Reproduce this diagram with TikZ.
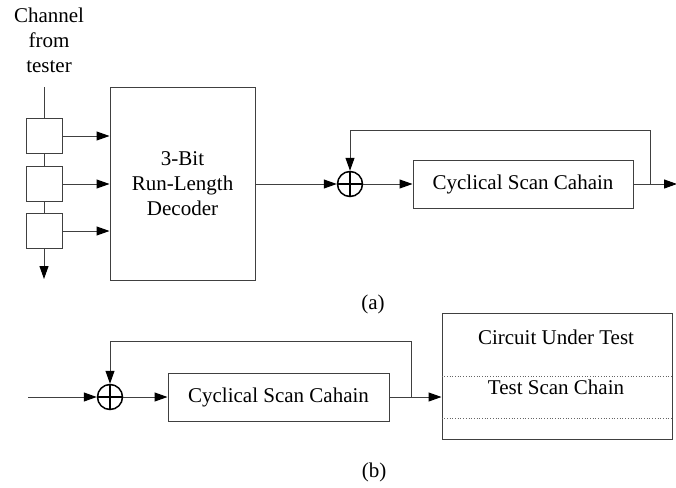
\documentclass[tikz,border=0pt]{standalone}
\usepackage{fontspec}
\setmainfont{Liberation Serif}
\usetikzlibrary{arrows.meta}
\tikzset{node distance=2.0cm, auto}

\begin{document}
\begin{tikzpicture}[
  x=1pt, y=-1pt,
  line width=1pt,
  txt/.style={font=\fontsize{21}{25}\selectfont, align=center, inner sep=0pt},
  blk/.style={draw=black!75, rectangle, inner sep=0pt, font=\fontsize{21}{25}\selectfont, align=center},
  xor/.style={draw, circle, minimum size=25pt, inner sep=0pt, line width=1.5pt,
    path picture={\draw (path picture bounding box.north) -- (path picture bounding box.south)
      (path picture bounding box.west) -- (path picture bounding box.east);}},
  arr/.style={-{Triangle[length=13pt,width=9pt,color=black]}, draw=black!75},
  sep/.style={dotted, draw=black!60, line width=0.7pt}
]
\useasboundingbox (0,0) rectangle (676,487);

% (a) decoder side
\node[txt] (chan) at (49,40) {Channel\\from\\tester};
\coordinate (chin) at (44,87);
\node[blk, minimum width=36pt, minimum height=35pt] (reg1) at (44,136) {};
\node[blk, minimum width=36pt, minimum height=35pt] (reg2) at (44,184) {};
\node[blk, minimum width=36pt, minimum height=35pt] (reg3) at (44,231) {};
\coordinate (chout) at (44,279);
\node[blk, minimum width=145pt, minimum height=193pt] (dec) at (182.5,183.5) {3-Bit\\Run-Length\\Decoder};

\draw[draw=black!75] (chin) -- (reg1.north);
\draw[draw=black!75] (reg1.south) -- (reg2.north);
\draw[draw=black!75] (reg2.south) -- (reg3.north);
\draw[arr] (reg3.south) -- (chout);
\draw[arr] (reg1.east) -- (reg1.east -| dec.west);
\draw[arr] (reg2.east) -- (reg2.east -| dec.west);
\draw[arr] (reg3.east) -- (reg3.east -| dec.west);

% (a) cyclical chain
\node[xor] (xorA) at (350,184) {};
\node[blk, minimum width=220pt, minimum height=48pt] (chainA) at (523,184) {Cyclical Scan Cahain};
\coordinate (tapA) at (650,184);
\coordinate (outA) at (677,184);

\draw[arr] (dec.east |- xorA) -- (xorA.west);
\draw[arr] (xorA.east) -- (chainA.west);
\draw[arr] (chainA.east) -- (outA);
\draw[arr] (tapA) -- ++(0,-54) -| (xorA.north);

\node[txt] (capA) at (373,304) {(a)};

% (b)
\coordinate (inB) at (28,397);
\node[xor] (xorB) at (110,397) {};
\node[blk, minimum width=221pt, minimum height=48pt] (chainB) at (278.5,397) {Cyclical Scan Cahain};
\coordinate (tapB) at (411,397);
\node[blk, minimum width=230pt, minimum height=126pt] (cut) at (557,376) {};
\node[txt] (cutlbl) at (556,337) {Circuit Under Test};
\node[txt] (tsclbl) at (556,387) {Test Scan Chain};

\draw[sep] (cut.west |- 0,376) -- (cut.east |- 0,376);
\draw[sep] (cut.west |- 0,418) -- (cut.east |- 0,418);

\draw[arr] (inB) -- (xorB.west);
\draw[arr] (xorB.east) -- (chainB.west);
\draw[arr] (chainB.east) -- (chainB.east -| cut.west);
\draw[arr] (tapB) -- ++(0,-56) -| (xorB.north);

\node[txt] (capB) at (374,472) {(b)};
\end{tikzpicture}
\end{document}
